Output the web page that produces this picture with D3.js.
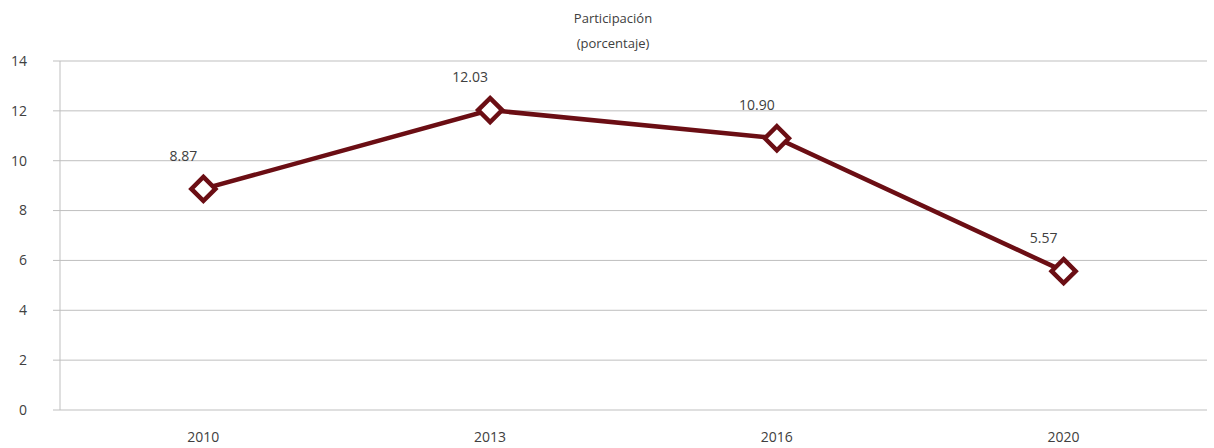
<!DOCTYPE html>
<meta charset="utf-8">
<head>
    <title>Participación (porcentaje)</title>
    <script src="https://cdn.jsdelivr.net/npm/d3@7"></script>
    <style>
        body { margin: 0; background: #fff; }
        text { font-family: "Open Sans", "Noto Sans", sans-serif; fill: #404040; }
    </style>
</head>
<body>
<svg id="chart"></svg>
<script>
    // data
    var years = ["2010", "2013", "2016", "2020"];
    var values = [8.87, 12.03, 10.90, 5.57];
    var yTicks = [0, 2, 4, 6, 8, 10, 12, 14];
    var titleLines = ["Participación", "(porcentaje)"];

    var W = 1214, H = 448;
    var margin = { top: 61, right: 7, bottom: 38, left: 60 };
    var width = W - margin.left - margin.right;
    var height = H - margin.top - margin.bottom;

    var svg = d3.select("#chart")
        .attr("width", W)
        .attr("height", H);

    var g = svg.append("g")
        .attr("transform", "translate(" + margin.left + "," + margin.top + ")");

    var x = d3.scaleBand().domain(years).range([0, width]);
    var y = d3.scaleLinear().domain([0, 14]).range([height, 0]);

    // gridlines
    g.selectAll(".grid")
        .data(yTicks)
        .enter().append("line")
        .attr("x1", -7)
        .attr("x2", width)
        .attr("y1", function(d) { return y(d); })
        .attr("y2", function(d) { return y(d); })
        .attr("stroke", "#bfbfbf")
        .attr("stroke-width", 1);

    // y axis line
    g.append("line")
        .attr("x1", 0).attr("x2", 0)
        .attr("y1", y(14)).attr("y2", y(0))
        .attr("stroke", "#bfbfbf");

    // y labels
    g.selectAll(".ylab")
        .data(yTicks)
        .enter().append("text")
        .attr("x", -33)
        .attr("y", function(d) { return y(d); })
        .attr("dy", "0.35em")
        .attr("text-anchor", "end")
        .style("font-size", "14px")
        .text(function(d) { return d; });

    // x labels
    g.selectAll(".xlab")
        .data(years)
        .enter().append("text")
        .attr("x", function(d) { return x(d) + x.bandwidth() / 2; })
        .attr("y", height + 27)
        .attr("dy", "0.35em")
        .attr("text-anchor", "middle")
        .style("font-size", "14px")
        .text(function(d) { return d; });

    var pts = years.map(function(d, i) { return { year: d, v: values[i] }; });

    var line = d3.line()
        .x(function(d) { return x(d.year) + x.bandwidth() / 2; })
        .y(function(d) { return y(d.v); });

    var maroon = "#6b0e14";

    g.append("path")
        .datum(pts)
        .attr("d", line)
        .attr("fill", "none")
        .attr("stroke", maroon)
        .attr("stroke-width", 4.5);

    // diamond markers
    g.selectAll(".mark")
        .data(pts)
        .enter().append("path")
        .attr("transform", function(d) {
            return "translate(" + (x(d.year) + x.bandwidth() / 2) + "," + y(d.v) + ")";
        })
        .attr("d", "M0,-12L12,0L0,12L-12,0Z")
        .attr("fill", "#fff")
        .attr("stroke", maroon)
        .attr("stroke-width", 4.5)
        .attr("stroke-linejoin", "miter");

    // value labels
    g.selectAll(".vlab")
        .data(pts)
        .enter().append("text")
        .attr("x", function(d) { return x(d.year) + x.bandwidth() / 2 - 20; })
        .attr("y", function(d) { return y(d.v) - 33; })
        .attr("dy", "0.35em")
        .attr("text-anchor", "middle")
        .style("font-size", "14px")
        .text(function(d) { return d.v.toFixed(2); });

    // title
    svg.selectAll(".title")
        .data(titleLines)
        .enter().append("text")
        .attr("x", 613)
        .attr("y", function(d, i) { return 18 + i * 25; })
        .attr("dy", "0.35em")
        .attr("text-anchor", "middle")
        .style("font-size", "13px")
        .text(function(d) { return d; });
</script>
</body>
</html>
